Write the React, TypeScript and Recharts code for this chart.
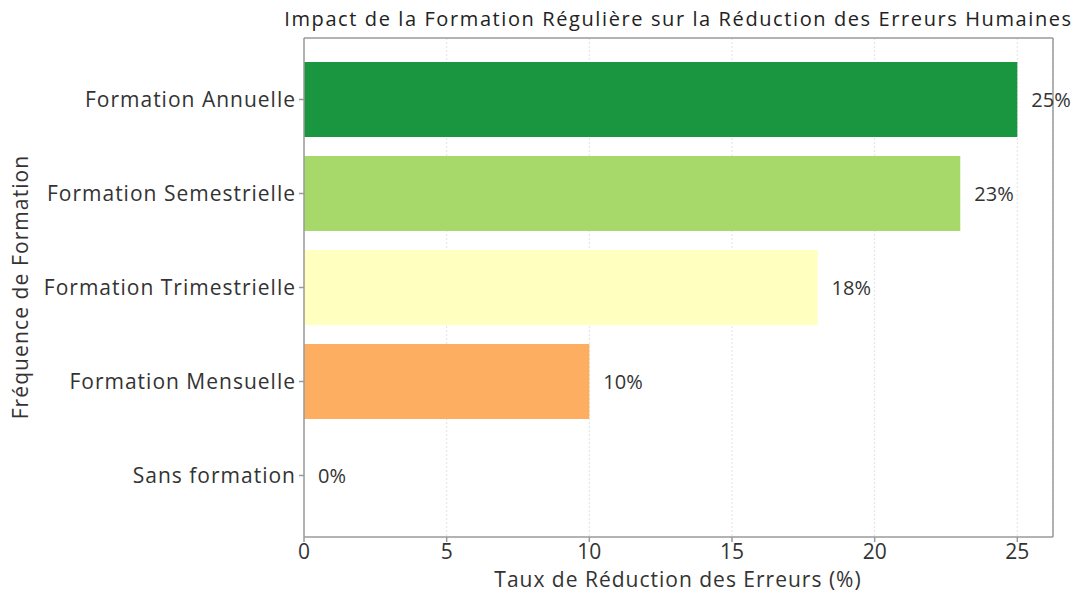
import React from "react";
import { BarChart, Bar, XAxis, YAxis, CartesianGrid, Cell, LabelList, Label } from "recharts";

const categories = ["Formation Annuelle", "Formation Semestrielle", "Formation Trimestrielle", "Formation Mensuelle", "Sans formation"];
const values = [25, 23, 18, 10, 0];
const colors = ["#1a9641", "#a6d96a", "#ffffbf", "#fdae61", "#d7191c"];
const xTicks = [0, 5, 10, 15, 20, 25];

const data = categories.map((name, i) => ({ name, value: values[i], label: `${values[i]}%` }));

const FONT = "'Open Sans', sans-serif";
const AXIS = "#9a9a9a";

export default function App() {
  return (
    <div style={{ position: "absolute", left: 0, top: 0, width: 1078, height: 595, background: "#fff" }}>
      <div
        style={{
          position: "absolute",
          left: 254,
          width: 849,
          top: 5,
          textAlign: "center",
          fontFamily: FONT,
          fontSize: 20,
          letterSpacing: 1.6,
          color: "#222",
          whiteSpace: "nowrap",
        }}
      >
        Impact de la Formation Régulière sur la Réduction des Erreurs Humaines
      </div>
      <BarChart
        width={1078}
        height={595}
        data={data}
        layout="vertical"
        margin={{ top: 37, right: 24, bottom: 0, left: 0 }}
        barCategoryGap="10%"
      >
        <CartesianGrid vertical={true} horizontal={false} stroke="#e2e2e2" strokeDasharray="2 2" />
        <XAxis
          type="number"
          dataKey="value"
          domain={[0, 26.25]}
          ticks={xTicks}
          allowDataOverflow
          height={58}
          tickSize={5}
          tickMargin={2}
          stroke={AXIS}
          strokeWidth={1.5}
          tick={{ fill: "#333", fontSize: 21, fontFamily: FONT }}
        >
          <Label
            content={() => (
              <text x={678} y={587} textAnchor="middle" fill="#333" fontSize={21} fontFamily={FONT} letterSpacing={1}>
                Taux de Réduction des Erreurs (%)
              </text>
            )}
          />
        </XAxis>
        <XAxis
          xAxisId="top"
          orientation="top"
          type="number"
          domain={[0, 26.25]}
          allowDataOverflow
          height={1}
          tick={false}
          tickLine={false}
          stroke={AXIS}
          strokeWidth={1.5}
        />
        <YAxis
          type="category"
          dataKey="name"
          width={304}
          padding={{ top: 14.5, bottom: 14.5 }}
          tickSize={5}
          tickMargin={3}
          stroke={AXIS}
          strokeWidth={1.5}
          tick={{ fill: "#333", fontSize: 21, fontFamily: FONT, letterSpacing: 1 }}
        >
          <Label
            content={() => (
              <text x={28} y={287} transform="rotate(-90 28 287)" textAnchor="middle" fill="#333" fontSize={21} fontFamily={FONT} letterSpacing={1.1}>
                Fréquence de Formation
              </text>
            )}
          />
        </YAxis>
        <YAxis
          yAxisId="right"
          orientation="right"
          type="category"
          dataKey="name"
          width={1}
          tick={false}
          tickLine={false}
          stroke={AXIS}
          strokeWidth={1.5}
        />
        <Bar dataKey="value" isAnimationActive={false} minPointSize={0.01}>
          {data.map((d, i) => (
            <Cell key={d.name} fill={colors[i]} />
          ))}
          <LabelList
            dataKey="label"
            position="right"
            offset={14}
            fill="#333"
            fontSize={20}
            fontFamily={FONT}
          />
        </Bar>
      </BarChart>
    </div>
  );
}
